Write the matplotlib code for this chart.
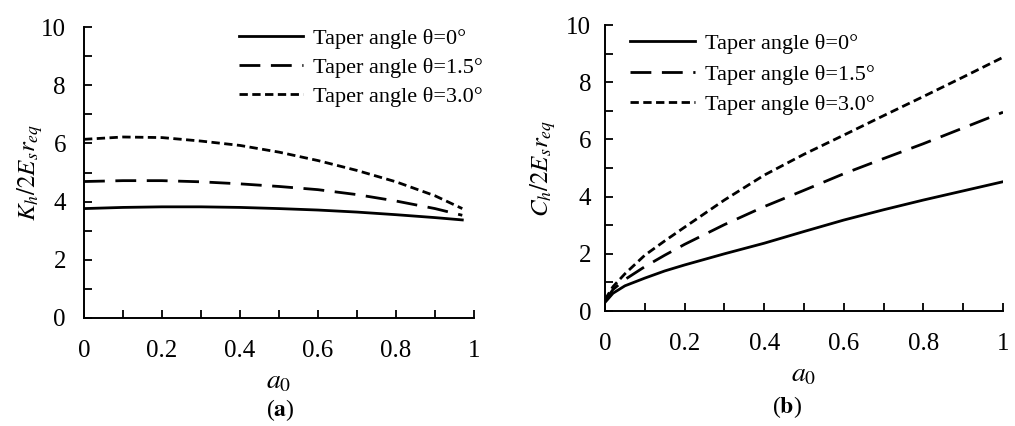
import matplotlib
matplotlib.use("Agg")
import matplotlib.pyplot as plt
from matplotlib.ticker import MultipleLocator

plt.rcParams['font.family'] = ['Liberation Serif', 'DejaVu Serif']
plt.rcParams['mathtext.fontset'] = 'stix'

# Panel (a): K_h / 2 E_s r_eq
a0_a = [0.0, 0.1, 0.2, 0.3, 0.4, 0.5, 0.6, 0.7, 0.8, 0.9, 0.97]
K_theta0 = [3.76, 3.80, 3.82, 3.82, 3.80, 3.76, 3.71, 3.64, 3.55, 3.45, 3.37]
K_theta15 = [4.69, 4.72, 4.72, 4.68, 4.61, 4.52, 4.41, 4.24, 4.02, 3.76, 3.53]
K_theta30 = [6.14, 6.22, 6.20, 6.08, 5.93, 5.70, 5.41, 5.07, 4.68, 4.20, 3.76]

# Panel (b): C_h / 2 E_s r_eq
a0_b = [0.0, 0.02, 0.05, 0.1, 0.15, 0.2, 0.3, 0.4, 0.5, 0.6, 0.7, 0.8, 0.9, 1.0]
C_theta0 = [0.30, 0.62, 0.88, 1.15, 1.40, 1.61, 2.00, 2.37, 2.78, 3.18, 3.54, 3.88, 4.20, 4.52]
C_theta15 = [0.35, 0.75, 1.10, 1.55, 1.95, 2.33, 3.02, 3.65, 4.22, 4.80, 5.33, 5.85, 6.40, 6.95]
C_theta30 = [0.40, 0.85, 1.30, 1.95, 2.45, 2.93, 3.88, 4.75, 5.48, 6.15, 6.83, 7.50, 8.18, 8.87]

labels = ["Taper angle \u03b8=0\u00b0", "Taper angle \u03b8=1.5\u00b0", "Taper angle \u03b8=3.0\u00b0"]
xticks = [0, 0.2, 0.4, 0.6, 0.8, 1]
xticklabels = ["0", "0.2", "0.4", "0.6", "0.8", "1"]
yticks = [0, 2, 4, 6, 8, 10]

W, H = 1015, 426
fig = plt.figure(figsize=(W / 100, H / 100), dpi=100)
ax1 = fig.add_axes([84 / W, 1 - 318 / H, 390 / W, 291 / H])
ax2 = fig.add_axes([605 / W, 1 - 311 / H, 398 / W, 286 / H])

lw = 2.0
styles = [dict(ls='-'), dict(ls=(0, (7.5, 3.8))), dict(ls=(0, (3.0, 1.6)))]

def style_axes(ax, ylabel, ypad, xpad, ylab_x):
    for s in ['top', 'right']:
        ax.spines[s].set_visible(False)
    for s in ['left', 'bottom']:
        ax.spines[s].set_linewidth(1.4)
    ax.set_xlim(0, 1)
    ax.set_ylim(0, 10)
    ax.set_xticks(xticks)
    ax.set_xticklabels(xticklabels)
    ax.set_yticks(yticks)
    ax.xaxis.set_minor_locator(MultipleLocator(0.1))
    ax.yaxis.set_minor_locator(MultipleLocator(1))
    ax.tick_params(which='both', direction='in', length=6, width=1.3, labelsize=18)
    ax.tick_params(axis='x', pad=xpad)
    ax.tick_params(axis='y', pad=ypad)
    ax.set_xlabel(r"$a_0$", fontsize=20, labelpad=5)
    ax.set_ylabel(ylabel, fontsize=18)
    ax.yaxis.set_label_coords(ylab_x, 0.5)

for ax, x, ys in [(ax1, a0_a, [K_theta0, K_theta15, K_theta30]),
                  (ax2, a0_b, [C_theta0, C_theta15, C_theta30])]:
    for y, st, lab in zip(ys, styles, labels):
        ax.plot(x, y, color='black', lw=lw, label=lab, **st)

style_axes(ax1, r"$K_h/2E_sr_{eq}$", 13, 16, -39 / 390)
style_axes(ax2, r"$C_h/2E_sr_{eq}$", 10, 16, -47 / 398)

leg_kw = dict(frameon=False, fontsize=16, handlelength=2.9, handletextpad=0.45,
              borderaxespad=0.0, borderpad=0.0)
ax1.legend(loc='upper right', bbox_to_anchor=(1.023, 0.995), labelspacing=0.38, **leg_kw)
ax2.legend(loc='upper left', bbox_to_anchor=(0.063, 0.97), labelspacing=0.45, **leg_kw)

fig.text(280 / W, 1 - 410 / H, r"($\mathbf{a}$)", ha='center', va='center', fontsize=17)
fig.text(787 / W, 1 - 407 / H, r"($\mathbf{b}$)", ha='center', va='center', fontsize=17)

fig.savefig("out.png", dpi=100)
